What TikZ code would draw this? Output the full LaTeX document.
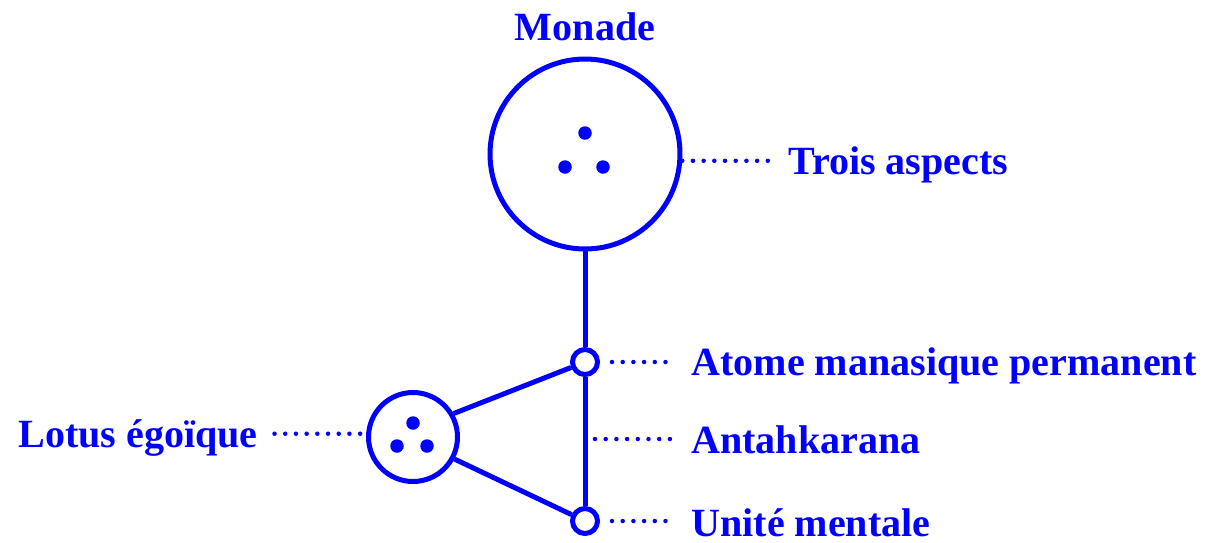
\documentclass[tikz,border=0pt]{standalone}
\usepackage{fontspec}
\setmainfont{Liberation Serif}
\usetikzlibrary{positioning}

\begin{document}
\begin{tikzpicture}[x=0.02cm, y=-0.02cm,
    every node/.style={text=blue, font=\fontsize{22.8}{27}\selectfont\bfseries},
    ring/.style={draw=blue, line width=0.1cm, circle, inner sep=0pt},
    link/.style={draw=blue, line width=0.1cm},
    leader/.style={draw=blue, line width=0.09cm, line cap=round, dash pattern=on 0pt off 0.214cm},
    tag/.style={inner sep=0pt}]
    \useasboundingbox (0,0) rectangle (1226,542);

    % Nodes
    \node[ring, minimum size=3.8cm] (monade) at (585,154) {};
    \node[ring, minimum size=0.5cm] (atome) at (585,362) {};
    \node[ring, minimum size=0.5cm] (unite) at (585,521) {};
    \node[ring, minimum size=1.78cm] (lotus) at (413,437) {};
    \coordinate (antah) at (585,439);

    % Dots
    \fill[blue] (585,133) circle (0.135cm) (565,167) circle (0.135cm) (603,167) circle (0.135cm);
    \fill[blue] (413,423) circle (0.135cm) (397,446) circle (0.135cm) (427,446) circle (0.135cm);

    % Links
    \draw[link] (monade) -- (atome);
    \draw[link] (atome) -- (unite);
    \draw[link] (lotus.30) -- (atome);
    \draw[link] (lotus.-28) -- (unite);

    % Labels
    \node[tag, above=0.3cm of monade] (monade-t) {Monade};
    \node[tag, anchor=base west] (trois-t) at (788,174) {Trois aspects};
    \node[tag, anchor=base west] (atome-t) at (691,375) {Atome manasique permanent};
    \node[tag, anchor=base west] (antah-t) at (691,453) {Antahkarana};
    \node[tag, anchor=base west] (unite-t) at (691,536) {Unité mentale};
    \node[tag, anchor=base east] (lotus-t) at (258,447) {Lotus égoïque};

    % Leaders
    \draw[leader] (monade.-4) -- ++(87,0);
    \draw[leader, shorten <=0.24cm] (atome.east) -- ++(66,0);
    \draw[leader, shorten <=0.2cm] (antah) -- ++(86,0);
    \draw[leader, shorten <=0.24cm] (unite.east) -- ++(66,0);
    \draw[leader, shorten <=0.12cm] (lotus.176) -- ++(-93,0);
\end{tikzpicture}
\end{document}
